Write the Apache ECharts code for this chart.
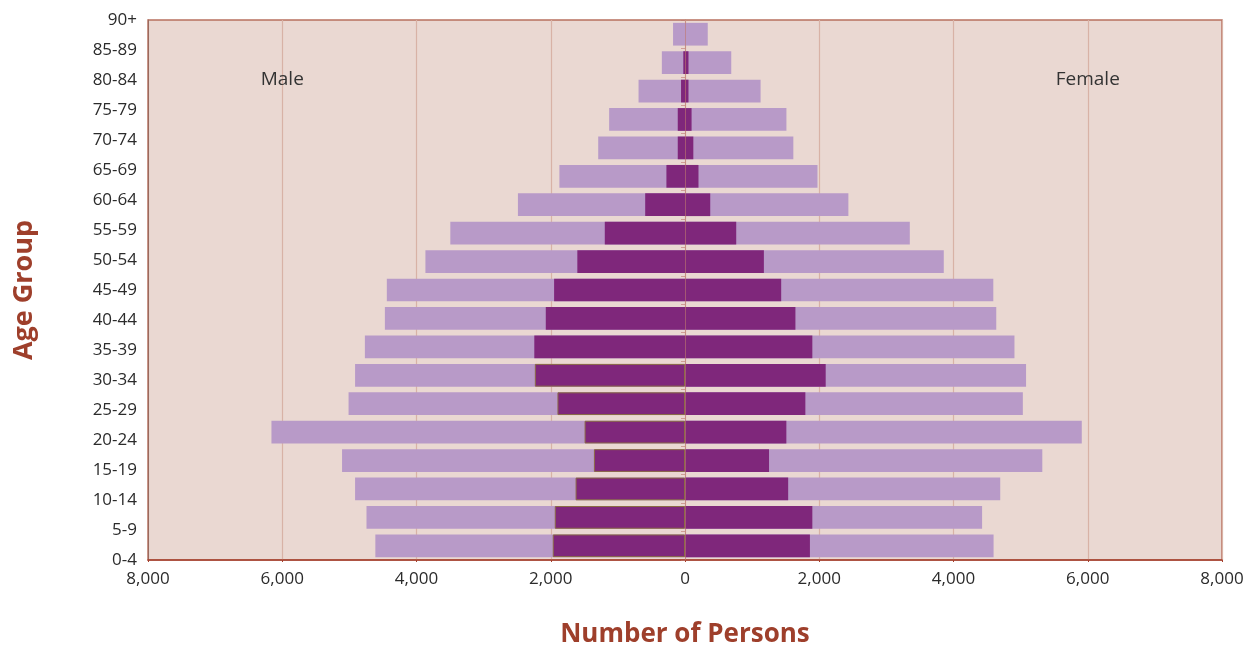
<!DOCTYPE html>
<html>
<head>
<meta charset="utf-8">
<script src="https://cdn.jsdelivr.net/npm/echarts@6/dist/echarts.min.js"></script>
<style>
  html, body { margin: 0; padding: 0; background: #ffffff; }
  #chart { width: 1251px; height: 645px; }
</style>
</head>
<body>
<div id="chart"></div>
<script>
// Categories, bottom to top
const ageGroups = ['0-4','5-9','10-14','15-19','20-24','25-29','30-34','35-39','40-44','45-49','50-54','55-59','60-64','65-69','70-74','75-79','80-84','85-89','90+'];

// Light bars (all persons)
const maleTotal   = [4613, 4745, 4915, 5109, 6161, 5012, 4915, 4769, 4471, 4442, 3867, 3496, 2489, 1871, 1293, 1130, 692, 345, 178];
const femaleTotal = [4597, 4426, 4696, 5323, 5911, 5033, 5081, 4908, 4637, 4593, 3855, 3349, 2434, 1974, 1614, 1511, 1126, 689, 339];

// Dark bars (subgroup)
const maleSub   = [1970, 1940, 1630, 1357, 1496, 1900, 2237, 2245, 2074, 1950, 1604, 1195, 593, 277, 108, 108, 59, 25, 0];
const femaleSub = [1861, 1897, 1537, 1252, 1510, 1793, 2096, 1897, 1645, 1433, 1175, 763, 376, 201, 124, 98, 52, 52, 0];

const xTicks = { min: -8000, max: 8000, interval: 2000 };
const sideLabels = { male: 'Male', female: 'Female' };

const LIGHT = '#B89AC8';
const DARK = '#7F277B';
const BROWN = '#9E3F2B';
const FONT = '"Open Sans", "Noto Sans", sans-serif';

const chart = echarts.init(document.getElementById('chart'), null, { renderer: 'canvas' });

const neg = arr => arr.map(v => -v);
const maleSubData = maleSub.map((v, i) => i < 7
  ? { value: -v, itemStyle: { borderColor: '#8a6a45', borderWidth: 1 } }
  : -v);

const option = {
  animation: false,
  backgroundColor: '#ffffff',
  grid: {
    left: 148, right: 29, top: 20, bottom: 85,
    outerBoundsMode: 'none',
    containLabel: false,
    show: true,
    backgroundColor: '#EAD8D2',
    borderColor: '#B8705F',
    borderWidth: 1.5
  },
  xAxis: {
    type: 'value',
    min: xTicks.min, max: xTicks.max, interval: xTicks.interval,
    axisLine: { show: true, lineStyle: { color: '#A5402E', width: 1.5 } },
    axisTick: { show: true, length: 2, lineStyle: { color: '#A5402E' } },
    splitLine: { show: true, lineStyle: { color: '#D8B2A6', width: 1.2 } },
    axisLabel: {
      color: '#2b2b2b', fontFamily: FONT, fontSize: 17, margin: 11,
      formatter: v => Math.abs(v).toLocaleString('en-US')
    },
    name: 'Number of Persons',
    nameLocation: 'middle',
    nameGap: 62,
    nameTextStyle: { color: BROWN, fontFamily: FONT, fontWeight: 'bold', fontSize: 26 }
  },
  yAxis: [
    {
      type: 'category',
      data: ageGroups,
      boundaryGap: true,
      z: 5,
      axisLine: { show: true, onZero: true, lineStyle: { color: 'rgba(190,120,110,0.6)', width: 1 } },
      axisTick: { show: true, length: 4, interval: 0, lineStyle: { color: 'rgba(190,120,110,0.6)' } },
      axisLabel: { show: false },
      splitLine: { show: false }
    },
    {
      type: 'category',
      data: ageGroups,
      boundaryGap: false,
      position: 'left',
      axisLine: { show: true, onZero: false, lineStyle: { color: '#9A6A5E', width: 1 } },
      axisTick: { show: false },
      axisLabel: { color: '#2b2b2b', fontFamily: FONT, fontSize: 17, margin: 11, interval: 0 },
      splitLine: { show: false },
      name: 'Age Group',
      nameLocation: 'middle',
      nameGap: 110,
      nameRotate: 90,
      nameTextStyle: { color: BROWN, fontFamily: FONT, fontWeight: 'bold', fontSize: 27 }
    }
  ],
  series: [
    { name: 'Male total', type: 'bar', yAxisIndex: 0, data: neg(maleTotal),
      barWidth: '80%', barGap: '-100%', itemStyle: { color: LIGHT }, z: 2 },
    { name: 'Female total', type: 'bar', yAxisIndex: 0, data: femaleTotal,
      barWidth: '80%', barGap: '-100%', itemStyle: { color: LIGHT }, z: 2 },
    { name: 'Male sub', type: 'bar', yAxisIndex: 0, data: maleSubData,
      barWidth: '80%', barGap: '-100%', itemStyle: { color: DARK }, z: 3 },
    { name: 'Female sub', type: 'bar', yAxisIndex: 0, data: femaleSub,
      barWidth: '80%', barGap: '-100%', itemStyle: { color: DARK }, z: 3 }
  ]
};

chart.setOption(option);

// Place the "Male" / "Female" annotations in data coordinates
const pm = chart.convertToPixel({ xAxisIndex: 0, yAxisIndex: 1 }, [-6000, '80-84']);
const pf = chart.convertToPixel({ xAxisIndex: 0, yAxisIndex: 1 }, [6000, '80-84']);
chart.setOption({
  graphic: [
    { type: 'text', x: pm[0], y: pm[1], z: 10,
      style: { text: sideLabels.male, fill: '#333333', font: '19px ' + FONT, align: 'center', verticalAlign: 'middle' } },
    { type: 'text', x: pf[0], y: pf[1], z: 10,
      style: { text: sideLabels.female, fill: '#333333', font: '19px ' + FONT, align: 'center', verticalAlign: 'middle' } }
  ]
});
</script>
</body>
</html>
